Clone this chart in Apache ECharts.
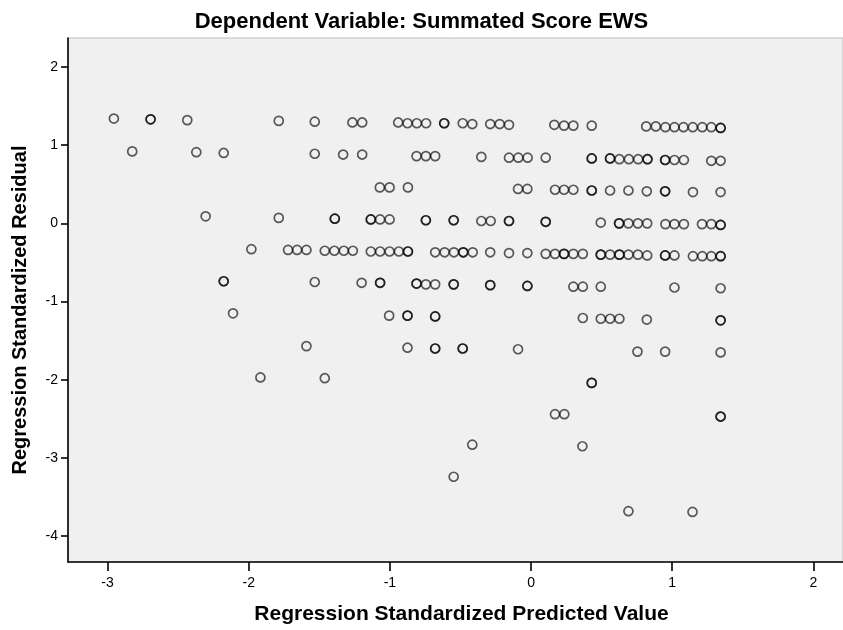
<!DOCTYPE html>
<html>
<head>
<meta charset="utf-8">
<script src="https://cdn.jsdelivr.net/npm/echarts@6/dist/echarts.min.js"></script>
<style>
html,body{margin:0;padding:0;background:#fff;}
#chart{width:843px;height:630px;}
</style>
</head>
<body>
<div id="chart"></div>
<script>
// Chart text
const titleText = 'Dependent Variable: Summated Score EWS';
const xAxisTitle = 'Regression Standardized Predicted Value';
const yAxisTitle = 'Regression Standardized Residual';

// Tick labels
const xTicks = [-3, -2, -1, 0, 1, 2];
const yTicks = [2, 1, 0, -1, -2, -3, -4];

// Regression standardized predicted values (x)
const predicted = [
  // residual band ~1.3
  -2.955, -2.695, -2.695, -2.435, -1.787, -1.532, -1.265, -1.196, -0.941, -0.875, -0.809, -0.743, -0.615, -0.615,
  -0.484, -0.416, -0.289, -0.222, -0.156, 0.165, 0.234, 0.300, 0.430, 0.816, 0.884, 0.952, 1.016, 1.080, 1.146,
  1.213, 1.277, 1.343, 1.343,
  // band ~0.87
  -2.825, -2.371, -2.177, -1.532, -1.331, -1.196, -0.811, -0.745, -0.679, -0.352, -0.156, -0.090, -0.024, 0.104,
  0.430, 0.430, 0.560, 0.560, 0.626, 0.693, 0.759, 0.825, 0.825, 0.950, 0.950, 1.016, 1.083, 1.277, 1.343,
  // band ~0.45
  -1.071, -1.002, -0.872, -0.092, -0.026, 0.170, 0.234, 0.300, 0.430, 0.430, 0.560, 0.690, 0.820, 0.950, 0.950,
  1.147, 1.343,
  // band ~0.05
  -2.305, -1.787, -1.390, -1.390, -1.135, -1.135, -1.069, -1.002, -0.745, -0.745, -0.548, -0.548, -0.352, -0.286,
  -0.156, -0.156, 0.104, 0.104, 0.494, 0.624, 0.624, 0.690, 0.757, 0.823, 0.952, 1.016, 1.083, 1.211, 1.277,
  1.343, 1.343,
  // band ~-0.37
  -1.981, -1.721, -1.657, -1.591, -1.461, -1.393, -1.326, -1.262, -1.135, -1.069, -1.002, -0.936, -0.872, -0.872,
  -0.679, -0.612, -0.546, -0.480, -0.480, -0.413, -0.289, -0.156, -0.026, 0.104, 0.170, 0.234, 0.234, 0.300,
  0.367, 0.494, 0.494, 0.560, 0.626, 0.626, 0.690, 0.757, 0.823, 0.950, 0.950, 1.016, 1.147, 1.213, 1.277,
  1.343, 1.343,
  // band ~-0.78
  -2.177, -2.177, -1.532, -1.200, -1.069, -1.069, -0.811, -0.811, -0.745, -0.679, -0.548, -0.548, -0.289, -0.289,
  -0.026, -0.026, 0.300, 0.367, 0.494, 1.016, 1.343,
  // band ~-1.2
  -2.111, -1.005, -0.875, -0.875, -0.679, -0.679, 0.367, 0.494, 0.560, 0.626, 0.820, 1.343, 1.343,
  // band ~-1.6
  -1.591, -0.875, -0.679, -0.679, -0.484, -0.484, -0.092, 0.754, 0.950, 1.343,
  // band ~-2.0
  -1.917, -1.461, 0.430, 0.430,
  // band ~-2.45
  0.170, 0.236, 1.343, 1.343,
  // band ~-2.84
  -0.416, 0.364,
  // band ~-3.24
  -0.548,
  // band ~-3.68
  0.690, 1.144
];

// Regression standardized residuals (y), same order
const residual = [
  1.34, 1.33, 1.33, 1.32, 1.31, 1.30, 1.29, 1.29, 1.29, 1.28, 1.28, 1.28, 1.28, 1.28,
  1.28, 1.27, 1.27, 1.27, 1.26, 1.26, 1.25, 1.25, 1.25, 1.24, 1.24, 1.23, 1.23, 1.23, 1.23,
  1.23, 1.23, 1.22, 1.22,
  0.92, 0.91, 0.90, 0.89, 0.88, 0.88, 0.86, 0.86, 0.86, 0.85, 0.84, 0.84, 0.84, 0.84,
  0.83, 0.83, 0.83, 0.83, 0.82, 0.82, 0.82, 0.82, 0.82, 0.81, 0.81, 0.81, 0.81, 0.80, 0.80,
  0.46, 0.46, 0.46, 0.44, 0.44, 0.43, 0.43, 0.43, 0.42, 0.42, 0.42, 0.42, 0.41, 0.41, 0.41,
  0.40, 0.40,
  0.09, 0.07, 0.06, 0.06, 0.05, 0.05, 0.05, 0.05, 0.04, 0.04, 0.04, 0.04, 0.03, 0.03,
  0.03, 0.03, 0.02, 0.02, 0.01, 0.00, 0.00, 0.00, 0.00, 0.00, -0.01, -0.01, -0.01, -0.01, -0.01,
  -0.02, -0.02,
  -0.33, -0.34, -0.34, -0.34, -0.35, -0.35, -0.35, -0.35, -0.36, -0.36, -0.36, -0.36, -0.36, -0.36,
  -0.37, -0.37, -0.37, -0.37, -0.37, -0.37, -0.37, -0.38, -0.38, -0.39, -0.39, -0.39, -0.39, -0.39,
  -0.39, -0.40, -0.40, -0.40, -0.40, -0.40, -0.40, -0.40, -0.41, -0.41, -0.41, -0.41, -0.42, -0.42, -0.42,
  -0.42, -0.42,
  -0.74, -0.74, -0.75, -0.76, -0.76, -0.76, -0.77, -0.77, -0.78, -0.78, -0.78, -0.78, -0.79, -0.79,
  -0.80, -0.80, -0.81, -0.81, -0.81, -0.82, -0.83,
  -1.15, -1.18, -1.18, -1.18, -1.19, -1.19, -1.21, -1.22, -1.22, -1.22, -1.23, -1.24, -1.24,
  -1.57, -1.59, -1.60, -1.60, -1.60, -1.60, -1.61, -1.64, -1.64, -1.65,
  -1.97, -1.98, -2.04, -2.04,
  -2.44, -2.44, -2.47, -2.47,
  -2.83, -2.85,
  -3.24,
  -3.68, -3.69
];

const points = predicted.map((x, i) => [x, residual[i]]);

const chart = echarts.init(document.getElementById('chart'), null, {renderer: 'canvas'});
const fontFam = '"Liberation Sans", Arial, sans-serif';
chart.setOption({
  animation: false,
  backgroundColor: '#ffffff',
  title: {
    text: titleText,
    left: 'center',
    top: 6,
    textStyle: {fontFamily: fontFam, fontWeight: 'bold', fontSize: 22, color: '#000'}
  },
  graphic: [{
    type: 'text',
    x: 20, y: 310,
    rotation: Math.PI / 2,
    style: {
      text: yAxisTitle,
      fontFamily: fontFam, fontWeight: 'bold', fontSize: 20, fill: '#000',
      align: 'center', verticalAlign: 'middle'
    }
  }],
  grid: {
    left: 68, right: 0, top: 38, bottom: 65,
    show: true,
    backgroundColor: '#f0f0f0',
    borderColor: '#bdbdbd',
    borderWidth: 1
  },
  xAxis: {
    type: 'value',
    min: -3.28, max: 2.21,
    name: xAxisTitle,
    nameLocation: 'middle',
    nameGap: 42,
    nameTextStyle: {fontFamily: fontFam, fontWeight: 'bold', fontSize: 21, color: '#000', padding: [0, 0, 0, 12]},
    axisLine: {show: true, onZero: false, lineStyle: {color: '#000', width: 1.6}},
    axisTick: {show: true, length: 9, lineStyle: {color: '#000', width: 1.6}, customValues: xTicks},
    axisLabel: {fontFamily: fontFam, fontSize: 14, color: '#000', margin: 14, customValues: xTicks},
    splitLine: {show: false}
  },
  yAxis: {
    type: 'value',
    min: -4.33, max: 2.37,
    axisLine: {show: true, onZero: false, lineStyle: {color: '#000', width: 1.6}},
    axisTick: {show: true, length: 7, lineStyle: {color: '#000', width: 1.6}, customValues: yTicks},
    axisLabel: {fontFamily: fontFam, fontSize: 14, color: '#000', margin: 10, customValues: yTicks},
    splitLine: {show: false}
  },
  series: [{
    type: 'scatter',
    data: points,
    symbol: 'circle',
    symbolSize: 9,
    itemStyle: {color: 'rgba(0,0,0,0)', borderColor: 'rgba(0,0,0,0.8)', borderWidth: 1.7},
    emphasis: {disabled: true}
  }]
});
</script>
</body>
</html>
